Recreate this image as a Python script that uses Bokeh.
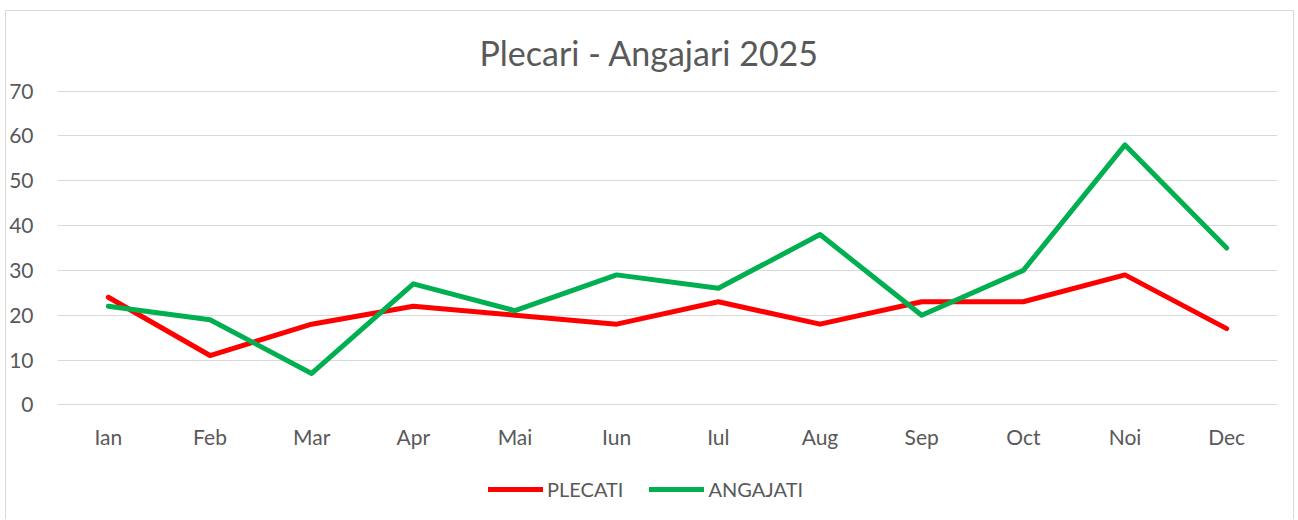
from bokeh.plotting import figure
from bokeh.layouts import column
from bokeh.models import FactorRange, Range1d, Legend, LegendItem, FixedTicker
from bokeh.embed import file_html
from bokeh.resources import INLINE

months = ["Ian", "Feb", "Mar", "Apr", "Mai", "Iun", "Iul", "Aug", "Sep", "Oct", "Noi", "Dec"]
plecati = [24, 11, 18, 22, 20, 18, 23, 18, 23, 23, 29, 17]
angajati = [22, 19, 7, 27, 21, 29, 26, 38, 20, 30, 58, 35]
series_names = ["PLECATI", "ANGAJATI"]
series_colors = ["#FF0000", "#00B050"]
title_text = "Plecari - Angajari 2025"
y_ticks = [0, 10, 20, 30, 40, 50, 60, 70]

TEXT = "#595959"
GRID = "#D9D9D9"
FONT = "Lato"

p = figure(x_range=FactorRange(factors=months), y_range=Range1d(-0.15, 70.15),
           width=1287, height=442, output_backend="svg", toolbar_location=None,
           min_border_left=40, min_border_right=16, min_border_top=79, min_border_bottom=48)

p.title.text = title_text
p.title.align = "left"
p.title.text_font = FONT
p.title.text_font_size = "34px"
p.title.text_font_style = "normal"
p.title.text_color = TEXT
p.title.offset = 422
p.title.standoff = 35

p.outline_line_color = None
p.ygrid.grid_line_color = GRID
p.ygrid.grid_line_width = 1
p.xgrid.grid_line_color = None

p.yaxis.ticker = FixedTicker(ticks=y_ticks)
for ax in (p.xaxis[0], p.yaxis[0]):
    ax.axis_line_color = None
    ax.major_tick_line_color = None
    ax.minor_tick_line_color = None
    ax.major_label_text_font = FONT
    ax.major_label_text_font_size = "21px"
    ax.major_label_text_color = TEXT
p.yaxis.major_label_standoff = 18
p.xaxis.major_label_standoff = 12

r1 = p.line(months, plecati, line_color=series_colors[0], line_width=5, line_cap="round", line_join="round")
r2 = p.line(months, angajati, line_color=series_colors[1], line_width=5, line_cap="round", line_join="round")

# legend strip below the chart (series drawn off-view, only the legend shows)
p2 = figure(width=1287, height=66, output_backend="svg", toolbar_location=None,
            x_range=FactorRange(factors=months), y_range=Range1d(1000, 1001), min_border=0)
p2.axis.visible = False
p2.grid.visible = False
p2.outline_line_color = None
l1 = p2.line(months, plecati, line_color=series_colors[0], line_width=5, line_cap="round")
l2 = p2.line(months, angajati, line_color=series_colors[1], line_width=5, line_cap="round")
legend = Legend(items=[LegendItem(label=series_names[0], renderers=[l1]),
                       LegendItem(label=series_names[1], renderers=[l2])],
                orientation="horizontal", location=(431, 18),
                glyph_width=55, label_standoff=4, spacing=26,
                label_text_font=FONT, label_text_font_size="20px", label_text_color=TEXT,
                border_line_color=None, background_fill_alpha=0, padding=0, margin=0)
p2.add_layout(legend, "center")

layout = column(p, p2, spacing=0, margin=(10, 0, 0, 5),
                styles={"border-left": "1px solid #D9D9D9", "border-top": "1px solid #D9D9D9",
                        "border-right": "1px solid #D9D9D9"})

open("out.html", "w").write(file_html(layout, INLINE))
